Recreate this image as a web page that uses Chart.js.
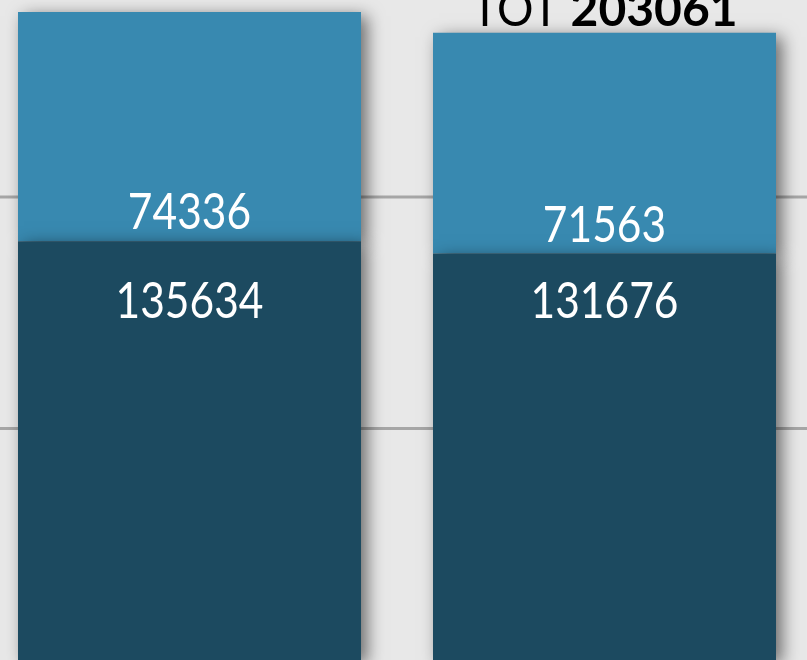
<!DOCTYPE html>
<html>
<head>
<meta charset="utf-8">
<script src="https://cdn.jsdelivr.net/npm/chart.js@4.4.1/dist/chart.umd.min.js"></script>
<style>
  html, body { margin: 0; padding: 0; background: #e8e8e8; }
  #wrap { position: relative; width: 807px; height: 660px; overflow: hidden; background: #e8e8e8; }
  #wrap canvas { position: absolute; left: -18px; top: 0; }
</style>
</head>
<body>
<div id="wrap"><canvas id="chart" width="830" height="660"></canvas></div>
<script>
// data
const categories = ["A", "B"];
const lowerValues = [135634, 131676];
const upperValues = [74336, 71563];
const totalLabels = ["", "203061"]; // first total is cropped out of the picture
const gridValues = [75000, 150000];

const darkColor = "#1c4a60";
const lightColor = "#3889b0";
const labelFont = "Lato, 'DejaVu Sans', sans-serif";

// horizontal grid lines + drop shadow behind the bars
const shadowPlugin = {
  id: "shadow",
  beforeDatasetsDraw(chart) {
    const ctx = chart.ctx;
    const y = chart.scales.y;
    const area = chart.chartArea;
    ctx.save();
    ctx.strokeStyle = "#a6a6a6";
    ctx.lineWidth = 3;
    gridValues.forEach((v) => {
      const py = y.getPixelForValue(v);
      ctx.beginPath();
      ctx.moveTo(area.left, py);
      ctx.lineTo(area.right, py);
      ctx.stroke();
    });
    ctx.restore();

    ctx.save();
    ctx.shadowColor = "rgba(0,0,0,0.55)";
    ctx.shadowBlur = 16;
    ctx.shadowOffsetX = 6;
    ctx.shadowOffsetY = 4;
  },
  afterDatasetsDraw(chart) {
    chart.ctx.restore();
  },
};

function squeezedText(ctx, text, x, y, sx) {
  ctx.save();
  ctx.translate(x, y);
  ctx.scale(sx, 1);
  ctx.fillText(text, 0, 0);
  ctx.restore();
}

// value labels + totals
const labelPlugin = {
  id: "labels",
  afterDraw(chart) {
    const ctx = chart.ctx;
    const low = chart.getDatasetMeta(0).data;
    const up = chart.getDatasetMeta(1).data;
    const yScale = chart.scales.y;
    const sx = 0.85;
    ctx.save();
    ctx.textAlign = "center";
    ctx.textBaseline = "alphabetic";
    ctx.fillStyle = "#ffffff";
    ctx.font = "50px " + labelFont;
    up.forEach((bar, i) => {
      squeezedText(ctx, String(upperValues[i]), bar.x, bar.base - 12, sx);
      squeezedText(ctx, String(lowerValues[i]), low[i].x, yScale.getPixelForValue(110800), sx);
    });

    // "TOT nnnnn" above each stack
    ctx.fillStyle = "#000000";
    ctx.textAlign = "left";
    up.forEach((bar, i) => {
      if (!totalLabels[i]) return;
      ctx.font = "48px " + labelFont;
      const w1 = ctx.measureText("TOT ").width * 0.95;
      ctx.font = "bold 48px " + labelFont;
      const w2 = ctx.measureText(totalLabels[i]).width;
      const x0 = bar.x - (w1 + w2) / 2;
      const y = bar.y - 7;
      ctx.font = "48px " + labelFont;
      squeezedText(ctx, "TOT ", x0, y, 0.95);
      ctx.font = "bold 48px " + labelFont;
      squeezedText(ctx, totalLabels[i], x0 + w1, y, 1);
    });
    ctx.restore();
  },
};

new Chart(document.getElementById("chart"), {
  type: "bar",
  data: {
    labels: categories,
    datasets: [
      { data: lowerValues, backgroundColor: darkColor },
      { data: upperValues, backgroundColor: lightColor },
    ],
  },
  options: {
    responsive: false,
    animation: false,
    layout: { padding: 0 },
    datasets: {
      bar: { barPercentage: 0.8265, categoryPercentage: 1, borderWidth: 0 },
    },
    plugins: {
      legend: { display: false },
      tooltip: { enabled: false },
    },
    scales: {
      x: { stacked: true, display: false },
      y: { stacked: true, display: false, min: 0, max: 213822 },
    },
  },
  plugins: [shadowPlugin, labelPlugin],
});
</script>
</body>
</html>
